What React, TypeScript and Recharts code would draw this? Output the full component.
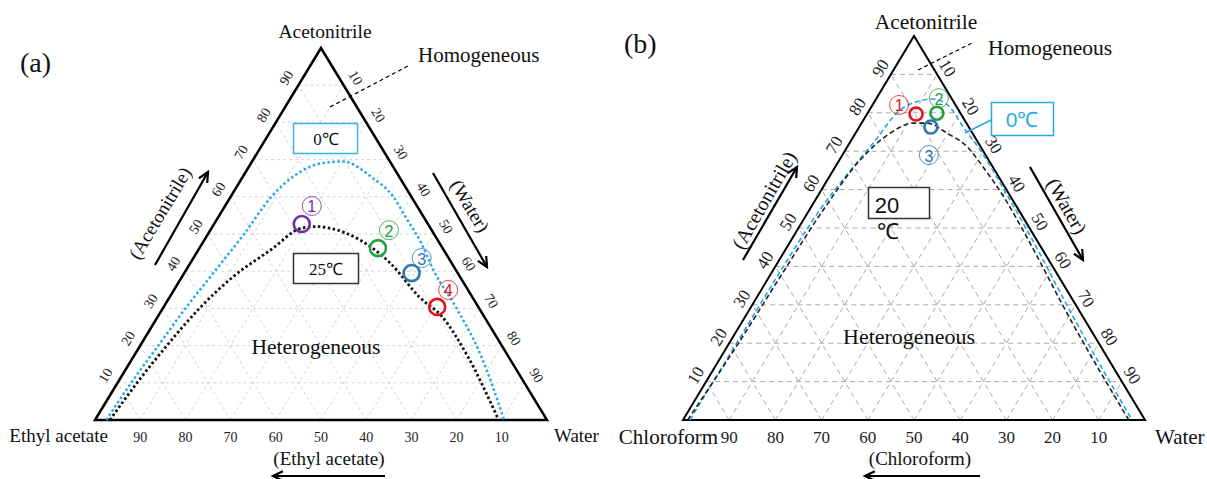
import React from "react";
import { ComposedChart, XAxis, YAxis, Line, Scatter, ReferenceLine } from "recharts";

// compositions are [acetonitrile %, water %]; the third component is the rest
type Comp = [number, number];

const TICKS = [10, 20, 30, 40, 50, 60, 70, 80, 90];

// (a) acetonitrile / ethyl acetate / water
const eaBinodal0C: Comp[] = [
  [0, 2.5], [10, 3], [20, 4], [30, 5], [40, 6.5], [50, 8], [60, 9], [66, 11.5], [69, 15.5],
  [69.5, 20], [65, 29], [60, 36], [54, 42], [48, 48], [40, 55], [30, 65], [17, 77], [0, 90.5],
];
const eaBinodal25C: Comp[] = [
  [0, 3.3], [10, 4.3], [20, 5.9], [30, 8.1], [38.5, 11.3], [45.7, 16], [51.6, 20], [52, 23],
  [51.6, 26], [48.4, 34.4], [42.2, 44.2], [33, 55.3], [27.7, 63], [17, 74], [0, 89.3],
];
const eaSamples: Comp[] = [[52.7, 19.4], [46.2, 39.5], [39.5, 50.3], [30.4, 60.5]];

// (b) acetonitrile / chloroform / water
const cfBinodal0C: Comp[] = [
  [0, 1.5], [20, 1.6], [37, 1.7], [55, 2.3], [66, 3.9], [72, 5.1], [80.7, 6.6], [83.1, 9.7],
  [83.6, 12.3], [81.5, 17], [76.3, 22.5], [70.3, 29.2], [60, 39.5], [49.5, 49.7], [25, 72.8], [0, 97.2],
];
const cfBinodal20C: Comp[] = [
  [0, 1], [20, 2], [37.2, 2.4], [54.7, 3], [67.7, 4.5], [74.7, 7.5], [77.3, 11.1], [77.3, 14.2],
  [74.7, 19.8], [71.1, 26], [65.9, 32], [57, 41.5], [49.5, 48.8], [25, 71.9], [0, 96.5],
];
const cfSamples: Comp[] = [[79.7, 10.6], [79.9, 15], [76.3, 15.5]];

const sampleLabels = ["1", "2", "3", "4"];

const toXY = ([a, w]: Comp) => ({ x: w + a / 2, y: a });

const SERIF = "'Liberation Serif', 'Times New Roman', serif";
const SANS = "'Liberation Sans', Arial, sans-serif";

type PanelProps = {
  left: number;
  width: number;
  height: number;
  xL: number;
  yB: number;
  base: number;
  h: number;
  curves: { data: Comp[]; color: string; dash: string; width: number }[];
  samples: Comp[];
  sampleColors: string[];
  labelOffsets: [number, number][];
  r: number;
  gridColor: string;
  gridDash: string;
  edgeWidth: number;
  tickSize: number;
  sideGap: number;
};

function Panel(p: PanelProps) {
  const xDomain = [(-p.xL / p.base) * 100, ((p.width - p.xL) / p.base) * 100];
  const yDomain = [(-(p.height - p.yB) / p.h) * 100, (p.yB / p.h) * 100];
  const theta = Math.atan2(p.h, p.base / 2);
  const deg = (theta * 180) / Math.PI;
  const s = Math.sin(theta);
  const c = Math.cos(theta);

  const grid: { x: number; y: number }[][] = [];
  TICKS.forEach((k) => {
    grid.push([{ x: k / 2, y: k }, { x: 100 - k / 2, y: k }]);
    grid.push([{ x: k, y: 0 }, { x: k + (100 - k) / 2, y: 100 - k }]);
    grid.push([{ x: 100 - k, y: 0 }, { x: (100 - k) / 2, y: 100 - k }]);
  });

  const leftTicks = TICKS.map((t) => ({ x: t / 2, y: t, t }));
  const rightTicks = TICKS.map((t) => ({ x: t + (100 - t) / 2, y: 100 - t, t }));
  const bottomTicks = TICKS.map((t) => ({ x: 100 - t, y: 0, t }));

  const tickText = (dx: number, dy: number, rot: number) => (q: any) => {
    const x = q.cx + dx;
    const y = q.cy + dy;
    return (
      <text x={x} y={y} textAnchor="middle" dominantBaseline="central" fontSize={p.tickSize}
        fontFamily={SERIF} fill="#222" transform={rot ? `rotate(${rot} ${x} ${y})` : undefined}>
        {q.payload.t}
      </text>
    );
  };

  const samplePts = p.samples.map((cp, i) => ({ ...toXY(cp), i }));

  return (
    <div style={{ position: "absolute", left: p.left, top: 0 }}>
      <ComposedChart width={p.width} height={p.height} margin={{ top: 0, right: 0, bottom: 0, left: 0 }}>
        <XAxis type="number" dataKey="x" domain={xDomain} allowDataOverflow hide />
        <YAxis type="number" dataKey="y" domain={yDomain} allowDataOverflow hide />
        {grid.map((seg, i) => (
          <ReferenceLine key={i} segment={seg} stroke={p.gridColor} strokeDasharray={p.gridDash} strokeWidth={1} />
        ))}
        <Line data={[{ x: 0, y: 0 }, { x: 50, y: 100 }, { x: 100, y: 0 }, { x: 0, y: 0 }, { x: 50, y: 100 }]} dataKey="y"
          type="linear" stroke="#000" strokeWidth={p.edgeWidth} dot={false} activeDot={false} isAnimationActive={false} />
        {p.curves.map((cv, i) => (
          <Line key={i} data={cv.data.map(toXY)} dataKey="y" type="monotone" stroke={cv.color}
            strokeWidth={cv.width} strokeDasharray={cv.dash} dot={false} activeDot={false} isAnimationActive={false} />
        ))}
        <Scatter data={leftTicks} isAnimationActive={false}
          shape={tickText(-s * p.sideGap, -c * p.sideGap, -deg)} />
        <Scatter data={rightTicks} isAnimationActive={false}
          shape={tickText(s * p.sideGap, -c * p.sideGap, deg)} />
        <Scatter data={bottomTicks} isAnimationActive={false} shape={tickText(0, 17, 0)} />
        <Scatter data={samplePts} isAnimationActive={false}
          shape={(q: any) => {
            const i = q.payload.i;
            const col = p.sampleColors[i];
            const [dx, dy] = p.labelOffsets[i];
            return (
              <g>
                <circle cx={q.cx} cy={q.cy} r={p.r} fill="none" stroke={col} strokeWidth={2.6} />
                <circle cx={q.cx + dx} cy={q.cy + dy} r={9.5} fill="none" stroke={col} strokeWidth={1} opacity={0.8} />
                <text x={q.cx + dx} y={q.cy + dy + 1} textAnchor="middle" dominantBaseline="central"
                  fontSize={16} fontFamily={SANS} fill={col}>
                  {sampleLabels[i]}
                </text>
              </g>
            );
          }} />
      </ComposedChart>
    </div>
  );
}

function Arrow({ x1, y1, x2, y2 }: { x1: number; y1: number; x2: number; y2: number }) {
  const ang = Math.atan2(y2 - y1, x2 - x1);
  const L = 11;
  const a1 = ang + Math.PI - 0.45;
  const a2 = ang + Math.PI + 0.45;
  return (
    <g stroke="#000" strokeWidth={2.2} fill="none">
      <line x1={x1} y1={y1} x2={x2} y2={y2} />
      <polyline points={`${x2 + L * Math.cos(a1)},${y2 + L * Math.sin(a1)} ${x2},${y2} ${x2 + L * Math.cos(a2)},${y2 + L * Math.sin(a2)}`} />
    </g>
  );
}

function Annotations() {
  const t = (x: number, y: number, str: string, size: number, opts: any = {}) => (
    <text x={x} y={y} fontSize={size} fontFamily={SERIF} fill="#111" {...opts}>{str}</text>
  );
  return (
    <svg width={1207} height={479} style={{ position: "absolute", left: 0, top: 0, pointerEvents: "none" }}>
      {/* panel a */}
      {t(20, 72, "(a)", 28)}
      {t(325, 38, "Acetonitrile", 19.5, { textAnchor: "middle" })}
      {t(418, 62, "Homogeneous", 21)}
      <line x1={330} y1={107} x2={408} y2={66} stroke="#000" strokeWidth={1.2} strokeDasharray="4 3" />
      <rect x={293.5} y={123.5} width={64} height={30} fill="#fff" stroke="#3db5e0" strokeWidth={1.5} />
      {t(326, 139, "0℃", 17, { textAnchor: "middle", dominantBaseline: "central" })}
      <rect x={293.5} y={253.5} width={65} height={30} fill="#fff" stroke="#333" strokeWidth={1.5} />
      {t(326, 269, "25℃", 17, { textAnchor: "middle", dominantBaseline: "central" })}
      {t(316, 354, "Heterogeneous", 21.5, { textAnchor: "middle" })}
      {t(108, 442, "Ethyl acetate", 19, { textAnchor: "end" })}
      {t(554, 442, "Water", 19)}
      {t(329, 465, "(Ethyl acetate)", 19, { textAnchor: "middle" })}
      <Arrow x1={385} y1={476} x2={273} y2={476} />
      {t(160, 213, "(Acetonitrile)", 19, { textAnchor: "middle", dominantBaseline: "central", transform: "rotate(-59 160 213)" })}
      <Arrow x1={155} y1={265} x2={208} y2={172} />
      {t(470, 206, "(Water)", 19, { textAnchor: "middle", dominantBaseline: "central", transform: "rotate(59 470 206)" })}
      <Arrow x1={433} y1={173} x2={487} y2={267} />

      {/* panel b */}
      {t(624, 53, "(b)", 28)}
      {t(926, 29, "Acetonitrile", 21.5, { textAnchor: "middle" })}
      {t(988, 55, "Homogeneous", 21.5)}
      <line x1={918} y1={70} x2={972} y2={43} stroke="#000" strokeWidth={1.2} strokeDasharray="4 3" />
      <line x1={991} y1={120} x2={965} y2={133} stroke="#29abe2" strokeWidth={1.5} />
      <rect x={991.5} y={102.5} width={62} height={33} fill="#fff" stroke="#29abe2" strokeWidth={1.5} />
      <text x={1022} y={119} fontSize={21} fontFamily={SANS} fill="#29abe2" textAnchor="middle" dominantBaseline="central">0℃</text>
      <rect x={868.5} y={187.5} width={61} height={31} fill="#fff" stroke="#333" strokeWidth={1.5} />
      <text x={887} y={205} fontSize={22} fontFamily={SANS} fill="#111" textAnchor="middle" dominantBaseline="central">20</text>
      <text x={888} y={231} fontSize={22} fontFamily={SANS} fill="#111" textAnchor="middle" dominantBaseline="central">℃</text>
      {t(909, 344, "Heterogeneous", 22, { textAnchor: "middle" })}
      {t(718, 444, "Chloroform", 21, { textAnchor: "end" })}
      {t(1155, 444, "Water", 21)}
      {t(920, 465, "(Chloroform)", 19, { textAnchor: "middle" })}
      <Arrow x1={980} y1={476} x2={865} y2={476} />
      {t(764, 200, "(Acetonitrile)", 20, { textAnchor: "middle", dominantBaseline: "central", transform: "rotate(-60 764 200)" })}
      <Arrow x1={743} y1={260} x2={797} y2={167} />
      {t(1067, 206, "(Water)", 20, { textAnchor: "middle", dominantBaseline: "central", transform: "rotate(60 1067 206)" })}
      <Arrow x1={1030} y1={167} x2={1083} y2={260} />
    </svg>
  );
}

export default function App() {
  return (
    <div style={{ position: "absolute", left: 0, top: 0, width: 1207, height: 479, background: "#fff", overflow: "hidden" }}>
      <Panel
        left={0} width={615} height={479} xL={95} yB={420} base={452} h={372}
        curves={[
          { data: eaBinodal0C, color: "#29abe2", dash: "2.5 2.5", width: 2.5 },
          { data: eaBinodal25C, color: "#111", dash: "2.5 2.5", width: 2.8 },
        ]}
        samples={eaSamples}
        sampleColors={["#7030a0", "#22a045", "#2f75b5", "#e8141c"]}
        labelOffsets={[[10, -18], [11, -18], [10, -15], [11, -17]]}
        r={8} gridColor="#d4d4d4" gridDash="3 3" edgeWidth={2.5} tickSize={14} sideGap={14}
      />
      <Panel
        left={600} width={607} height={479} xL={83} yB={420} base={462} h={384}
        curves={[
          { data: cfBinodal0C, color: "#1fa8e6", dash: "5 3", width: 1.6 },
          { data: cfBinodal20C, color: "#222", dash: "5 3", width: 1.6 },
        ]}
        samples={cfSamples}
        sampleColors={["#e8141c", "#22a045", "#2f75b5"]}
        labelOffsets={[[-17, -9], [2, -15], [-2, 28]]}
        r={6.5} gridColor="#aaaaaa" gridDash="5 4" edgeWidth={2} tickSize={17} sideGap={12}
      />
      <Annotations />
    </div>
  );
}
